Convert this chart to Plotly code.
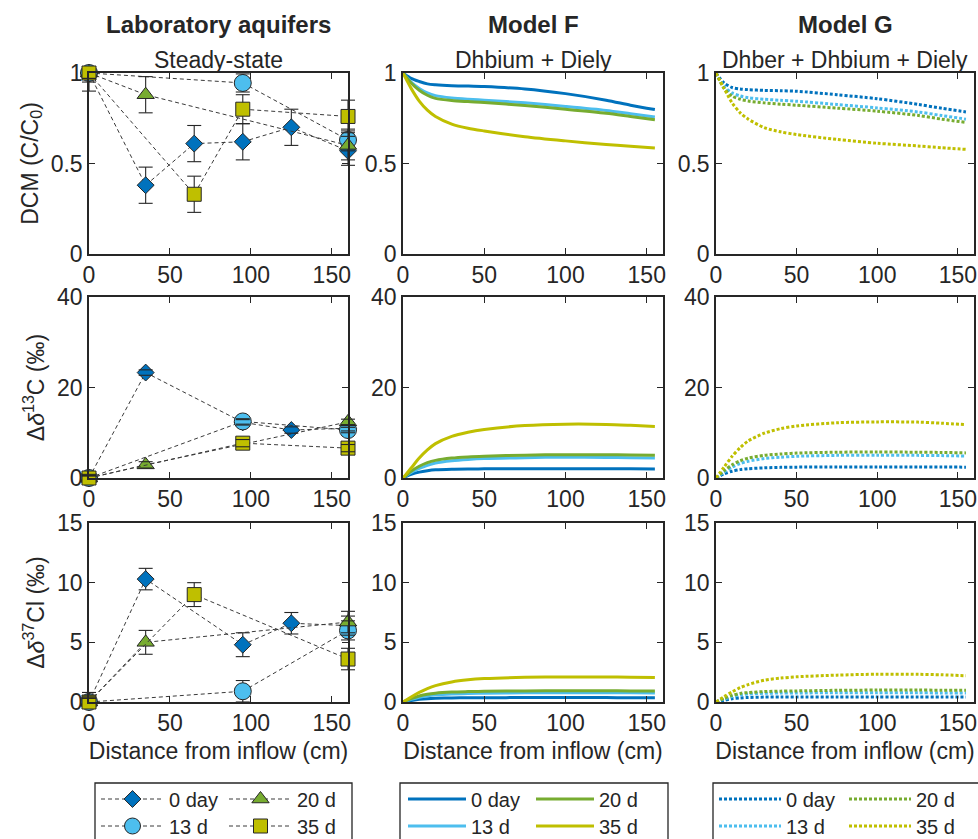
import plotly.graph_objects as go

W, H = 978, 839

# ---------------- data ----------------
SERIES = ["0 day", "13 d", "20 d", "35 d"]
COLORS = ["#0072BD", "#4DBEEE", "#77AC30", "#BFBF00"]
SYMBOLS = ["diamond", "circle", "triangle-up", "square"]
MSIZES = [13, 17, 15, 14]

# sampling ports of the laboratory aquifer (cm from inflow)
X_LAB = [0, 35, 65, 95, 125, 160]

# DCM (C/C0)
DCM_0DAY = [1.00, 0.38, 0.61, 0.62, 0.70, 0.57]
DCM_13D = [1.00, None, None, 0.945, None, 0.63]
DCM_20D = [1.00, 0.88, None, None, None, 0.60]
DCM_35D = [1.00, None, 0.33, 0.80, None, 0.76]
DCM_ERR_0DAY = [0.10, 0.10, 0.10, 0.10, 0.10, 0.08]
DCM_ERR_13D = [0.05, None, None, 0.05, None, 0.06]
DCM_ERR_20D = [0.03, 0.10, None, None, None, 0.08]
DCM_ERR_35D = [0.03, None, 0.10, 0.08, None, 0.09]

# delta-delta 13C (permil)
C13_0DAY = [0.0, 23.3, None, 12.3, 10.6, 11.0]
C13_13D = [0.0, None, None, 12.5, None, 10.6]
C13_20D = [0.0, 2.9, None, None, None, 12.4]
C13_35D = [0.0, None, None, 7.7, None, 6.6]
C13_ERR_0DAY = [0.8, 0.6, None, 0.6, 0.7, 0.6]
C13_ERR_13D = [0.5, None, None, 0.6, None, 0.6]
C13_ERR_20D = [0.5, 0.7, None, None, None, 0.6]
C13_ERR_35D = [0.5, None, None, 0.8, None, 0.8]

# delta-delta 37Cl (permil)
CL37_0DAY = [0.0, 10.3, None, 4.8, 6.6, 6.4]
CL37_13D = [0.0, None, None, 0.9, None, 6.0]
CL37_20D = [0.0, 5.0, None, None, None, 6.7]
CL37_35D = [0.0, None, 9.0, None, None, 3.6]
CL37_ERR_0DAY = [0.5, 0.9, None, 1.0, 0.9, 0.8]
CL37_ERR_13D = [0.3, None, None, 0.9, None, 0.8]
CL37_ERR_20D = [0.4, 1.0, None, None, None, 0.9]
CL37_ERR_35D = [0.8, None, 1.0, None, None, 0.9]

# model output distance grid (cm)
X_MODEL = [0, 5, 10, 15, 20, 30, 40, 50, 75, 100, 125, 140, 155]

# Model F
F_DCM_0DAY = [1.0, 0.97, 0.953, 0.94, 0.935, 0.93, 0.928, 0.925, 0.912, 0.886, 0.85, 0.822, 0.798]
F_DCM_13D = [1.0, 0.95, 0.915, 0.89, 0.875, 0.862, 0.855, 0.85, 0.835, 0.815, 0.793, 0.775, 0.757]
F_DCM_20D = [1.0, 0.945, 0.905, 0.877, 0.86, 0.848, 0.842, 0.837, 0.82, 0.80, 0.778, 0.76, 0.742]
F_DCM_35D = [1.0, 0.915, 0.845, 0.795, 0.76, 0.718, 0.695, 0.68, 0.648, 0.625, 0.605, 0.595, 0.586]
F_C13_0DAY = [0, 0.8, 1.3, 1.6, 1.8, 1.95, 2.0, 2.02, 2.05, 2.06, 2.05, 2.02, 2.0]
F_C13_13D = [0, 1.2, 2.1, 2.8, 3.3, 3.8, 4.1, 4.3, 4.5, 4.6, 4.55, 4.5, 4.4]
F_C13_20D = [0, 1.5, 2.6, 3.4, 3.9, 4.4, 4.65, 4.8, 5.05, 5.15, 5.15, 5.1, 5.0]
F_C13_35D = [0, 2.2, 4.4, 6.2, 7.6, 9.2, 10.1, 10.7, 11.6, 11.9, 11.85, 11.65, 11.4]
F_CL37_0DAY = [0, 0.12, 0.22, 0.28, 0.31, 0.34, 0.35, 0.36, 0.37, 0.37, 0.37, 0.36, 0.36]
F_CL37_13D = [0, 0.22, 0.4, 0.52, 0.6, 0.68, 0.72, 0.74, 0.77, 0.78, 0.78, 0.77, 0.76]
F_CL37_20D = [0, 0.28, 0.5, 0.65, 0.74, 0.83, 0.87, 0.9, 0.93, 0.94, 0.94, 0.93, 0.92]
F_CL37_35D = [0, 0.42, 0.8, 1.12, 1.37, 1.68, 1.86, 1.96, 2.07, 2.1, 2.1, 2.08, 2.05]

# Model G
G_DCM_0DAY = [1.0, 0.945, 0.92, 0.912, 0.908, 0.904, 0.902, 0.899, 0.88, 0.858, 0.827, 0.805, 0.785]
G_DCM_13D = [1.0, 0.925, 0.89, 0.873, 0.863, 0.855, 0.849, 0.844, 0.826, 0.807, 0.785, 0.765, 0.745]
G_DCM_20D = [1.0, 0.915, 0.872, 0.855, 0.845, 0.835, 0.828, 0.822, 0.806, 0.789, 0.766, 0.745, 0.727]
G_DCM_35D = [1.0, 0.915, 0.835, 0.78, 0.745, 0.698, 0.675, 0.66, 0.633, 0.612, 0.597, 0.587, 0.578]
G_C13_0DAY = [0, 0.9, 1.5, 1.85, 2.05, 2.25, 2.35, 2.4, 2.45, 2.45, 2.45, 2.42, 2.4]
G_C13_13D = [0, 1.3, 2.4, 3.2, 3.7, 4.3, 4.6, 4.8, 5.0, 5.05, 5.0, 4.95, 4.85]
G_C13_20D = [0, 1.6, 2.9, 3.8, 4.4, 5.0, 5.3, 5.5, 5.7, 5.75, 5.7, 5.65, 5.55]
G_C13_35D = [0, 2.4, 4.8, 6.7, 8.2, 9.9, 10.9, 11.5, 12.2, 12.4, 12.35, 12.1, 11.8]
G_CL37_0DAY = [0, 0.15, 0.27, 0.34, 0.38, 0.41, 0.42, 0.42, 0.42, 0.42, 0.42, 0.42, 0.42]
G_CL37_13D = [0, 0.25, 0.45, 0.6, 0.67, 0.73, 0.75, 0.76, 0.77, 0.77, 0.77, 0.76, 0.76]
G_CL37_20D = [0, 0.3, 0.55, 0.72, 0.79, 0.87, 0.91, 0.93, 0.98, 1.0, 1.0, 0.99, 0.98]
G_CL37_35D = [0, 0.45, 0.85, 1.2, 1.46, 1.83, 2.0, 2.11, 2.25, 2.33, 2.32, 2.28, 2.2]

# axis settings per row
Y_RANGES = [[0, 1], [0, 40], [0, 15]]
Y_TICKS = [[0, 0.5, 1], [0, 20, 40], [0, 5, 10, 15]]
Y_TICKTEXT = [["0", "0.5", "1"], ["0", "20", "40"], ["0", "5", "10", "15"]]
Y_TITLES = ["DCM (C/C<sub>0</sub>)", "Δ<i>δ</i><sup>13</sup>C (‰)", "Δ<i>δ</i><sup>37</sup>Cl (‰)"]
X_TICKS = [0, 50, 100, 150]

LAB_ROWS = [
    ([DCM_0DAY, DCM_13D, DCM_20D, DCM_35D], [DCM_ERR_0DAY, DCM_ERR_13D, DCM_ERR_20D, DCM_ERR_35D]),
    ([C13_0DAY, C13_13D, C13_20D, C13_35D], [C13_ERR_0DAY, C13_ERR_13D, C13_ERR_20D, C13_ERR_35D]),
    ([CL37_0DAY, CL37_13D, CL37_20D, CL37_35D], [CL37_ERR_0DAY, CL37_ERR_13D, CL37_ERR_20D, CL37_ERR_35D]),
]
F_ROWS = [
    [F_DCM_0DAY, F_DCM_13D, F_DCM_20D, F_DCM_35D],
    [F_C13_0DAY, F_C13_13D, F_C13_20D, F_C13_35D],
    [F_CL37_0DAY, F_CL37_13D, F_CL37_20D, F_CL37_35D],
]
G_ROWS = [
    [G_DCM_0DAY, G_DCM_13D, G_DCM_20D, G_DCM_35D],
    [G_C13_0DAY, G_C13_13D, G_C13_20D, G_C13_35D],
    [G_CL37_0DAY, G_CL37_13D, G_CL37_20D, G_CL37_35D],
]

# ---------------- layout geometry (pixels) ----------------
COL_PX = [(89, 348), (403, 663), (716, 974)]
ROW_PX = [(73, 254), (297, 478), (523, 702)]
FONT = "Liberation Sans, Arial, Helvetica, sans-serif"
FS = 23
FS_HEAD = 24
INK = "#262626"

# legend entry placement: left edge of each key sample per box column, rows
LEG_COL_X = [(100, 228), (407, 535), (718, 848)]
LEG_ROW_Y = (799, 826)
LEG_ITEMW = [63, 58, 62]
# series -> (key column, key row) inside each legend box
LEG_SLOT = {0: (0, 0), 2: (1, 0), 1: (0, 1), 3: (1, 1)}

fig = go.Figure()


def axis_id(r, c):
    return r * 3 + c + 1


def legend_name(c, s):
    idx = c * 4 + s + 1
    return "legend" if idx == 1 else f"legend{idx}"


for r in range(3):
    # laboratory data
    k = axis_id(r, 0)
    xa, ya = ("x", "y") if k == 1 else (f"x{k}", f"y{k}")
    vals_all, errs_all = LAB_ROWS[r]
    for s in range(4):
        vals, errs = vals_all[s], errs_all[s]
        fig.add_trace(go.Scatter(
            x=X_LAB, y=vals, mode="lines+markers", connectgaps=True,
            name=SERIES[s], legend=legend_name(0, s), showlegend=(r == 0),
            line=dict(color="#3a3a3a", width=1, dash="4px,3px"),
            marker=dict(symbol=SYMBOLS[s], size=MSIZES[s], color=COLORS[s],
                        line=dict(color=INK, width=1)),
            error_y=dict(type="data", array=[e if e is not None else 0 for e in errs],
                         color=INK, thickness=1.1, width=0),
            cliponaxis=False, xaxis=xa, yaxis=ya,
        ))
    # error bar caps drawn over the markers
    for s in range(4):
        vals, errs = vals_all[s], errs_all[s]
        cx, cy = [], []
        for xv, yv, ev in zip(X_LAB, vals, errs):
            if yv is None or ev is None:
                continue
            cx += [xv, xv]
            cy += [yv - ev, yv + ev]
        fig.add_trace(go.Scatter(
            x=cx, y=cy, mode="markers", showlegend=False, hoverinfo="skip",
            marker=dict(symbol="line-ew", size=10, color=INK, line=dict(color=INK, width=1.1)),
            cliponaxis=False, xaxis=xa, yaxis=ya,
        ))

    # model F (solid) and model G (dotted)
    for c, rows, dash in ((1, F_ROWS, "solid"), (2, G_ROWS, "3px,2px")):
        k = axis_id(r, c)
        xa, ya = f"x{k}", f"y{k}"
        for s in range(4):
            fig.add_trace(go.Scatter(
                x=X_MODEL, y=rows[r][s], mode="lines",
                name=SERIES[s], legend=legend_name(c, s), showlegend=(r == 0),
                line=dict(color=COLORS[s], width=3, dash=dash, shape="spline", smoothing=0.8),
                xaxis=xa, yaxis=ya,
            ))

layout = dict(
    width=W, height=H,
    margin=dict(l=0, r=0, t=0, b=0, autoexpand=False),
    paper_bgcolor="white", plot_bgcolor="white",
    font=dict(family=FONT, size=FS, color="black"),
    showlegend=True,
)

for r in range(3):
    for c in range(3):
        k = axis_id(r, c)
        x0, x1 = COL_PX[c]
        y0, y1 = ROW_PX[r]
        common = dict(showline=True, linecolor=INK, linewidth=1.5, mirror="ticks",
                      ticks="inside", ticklen=6, tickwidth=1, tickcolor=INK,
                      showgrid=False, zeroline=False, automargin=False,
                      tickfont=dict(size=FS, family=FONT, color=INK))
        xax = dict(common, domain=[x0 / W, x1 / W], range=[0, 160], tickvals=X_TICKS,
                   anchor=f"y{k}" if k > 1 else "y")
        if r == 2:
            xax["title"] = dict(text="Distance from inflow (cm)", standoff=8,
                                font=dict(size=FS, family=FONT, color=INK))
        yax = dict(common, domain=[1 - y1 / H, 1 - y0 / H], range=Y_RANGES[r],
                   tickvals=Y_TICKS[r], ticktext=Y_TICKTEXT[r],
                   anchor=f"x{k}" if k > 1 else "x")
        if c == 0:
            yax["title"] = dict(text=Y_TITLES[r], standoff=6,
                                font=dict(size=FS, family=FONT, color=INK))
        layout["xaxis" if k == 1 else f"xaxis{k}"] = xax
        layout["yaxis" if k == 1 else f"yaxis{k}"] = yax

# column headings
annotations = []
HEAD = [("<b>Laboratory aquifers</b>", "Steady-state"),
        ("<b>Model F</b>", "Dhbium + Diely"),
        ("<b>Model G</b>", "Dhber + Dhbium + Diely")]
for c, (t1, t2) in enumerate(HEAD):
    cx = (COL_PX[c][0] + COL_PX[c][1]) / 2 / W
    annotations.append(dict(text=t1, x=cx, y=1 - 25 / H, xref="paper", yref="paper",
                            showarrow=False, xanchor="center", yanchor="middle",
                            font=dict(size=FS_HEAD, family=FONT, color=INK)))
    annotations.append(dict(text=t2, x=cx, y=1 - 60 / H, xref="paper", yref="paper",
                            showarrow=False, xanchor="center", yanchor="middle",
                            font=dict(size=FS, family=FONT, color=INK)))
layout["annotations"] = annotations

# legend boxes, one single-entry legend per series key
BOX_PX = [(95, 352), (400, 668), (713, 985)]
shapes = []
for c in range(3):
    bx0, bx1 = BOX_PX[c]
    shapes.append(dict(type="rect", xref="paper", yref="paper",
                       x0=bx0 / W, x1=bx1 / W, y0=-0.05, y1=1 - 783 / H,
                       line=dict(color=INK, width=1.3), fillcolor="rgba(0,0,0,0)"))
    for s in range(4):
        kc, kr = LEG_SLOT[s]
        layout[legend_name(c, s)] = dict(
            orientation="h", x=(LEG_COL_X[c][kc] - 4) / W, y=1 - LEG_ROW_Y[kr] / H,
            xanchor="left", yanchor="middle",
            bgcolor="rgba(0,0,0,0)", borderwidth=0,
            font=dict(size=20, family=FONT, color=INK),
            itemwidth=LEG_ITEMW[c], tracegroupgap=0,
            itemclick=False, itemdoubleclick=False)
layout["shapes"] = shapes

fig.update_layout(**layout)
fig.write_html("out.html")
